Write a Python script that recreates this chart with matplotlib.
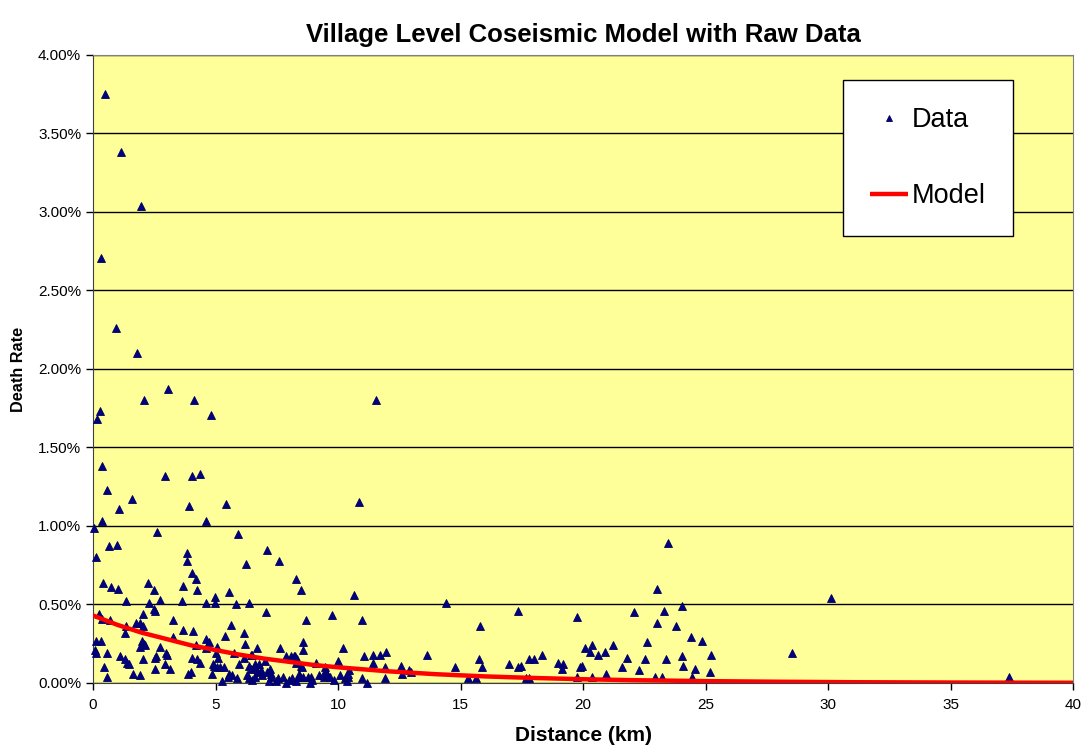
import numpy as np
import matplotlib
matplotlib.use("Agg")
import matplotlib.pyplot as plt
from matplotlib.ticker import FuncFormatter, MultipleLocator

plt.rcParams['font.family'] = ['Liberation Sans', 'DejaVu Sans']

# raw village data: distance (km), death rate (%)
data_km = [
    0.49, 1.14, 1.96, 0.33, 0.94, 1.80,
    3.06, 2.08, 4.12, 0.29, 0.16, 4.82, 11.55,
    0.37, 2.94, 4.04, 4.37, 0.57, 1.06, 1.59, 3.92, 5.43, 10.86,
    0.37, 4.61, 0.04, 2.61, 5.92,
    0.65, 0.98, 0.12, 3.84, 3.84, 7.10, 7.59, 6.24, 23.47,
    4.04, 4.20, 0.41, 0.73, 1.02, 2.24, 2.49, 3.67, 4.24, 8.29, 8.49, 5.55, 10.65, 30.12, 23.02,
    1.35, 2.73, 2.29, 3.63, 4.61, 4.98, 4.98, 5.84, 6.37, 14.41, 24.04,
    2.53, 2.04, 0.24, 0.37, 0.69, 7.06, 9.76, 3.27, 8.69, 10.98, 17.35, 23.31, 19.76, 22.08, 2.49,
    1.76, 1.92, 2.04, 1.35, 1.31, 5.63, 3.67, 4.08, 6.16, 15.80, 23.02, 23.80,
    0.12, 0.33, 2.00, 3.27, 4.61, 4.73, 5.39, 6.20, 8.57, 24.40, 24.86, 22.61, 2.08,
    1.92, 2.12, 2.73, 4.20, 5.06, 6.69, 7.63, 8.57, 10.20, 4.61, 5.02,
    0.08, 0.12, 0.57, 2.98, 3.02, 5.76, 1.10, 2.57, 4.04, 4.24, 4.37, 6.45, 6.49,
    7.88, 8.08, 8.20, 8.33, 8.29, 8.24,
    1.31, 1.39, 1.47, 2.04, 5.10, 7.02, 9.10, 10.00,
    0.45, 2.94, 3.14, 4.90, 4.94, 5.06, 5.18, 5.96, 6.37, 6.61, 6.78, 8.49, 8.53, 2.53,
    1.63, 1.92, 3.88, 4.00, 4.86, 0.57,
    11.06, 11.43, 11.71, 11.96, 11.43, 13.63, 12.57, 11.92, 10.45, 9.47, 9.51, 9.43, 12.90, 12.98,
    12.61, 14.78, 15.76, 15.88, 16.98, 17.35, 17.47, 17.80, 18.00, 18.33, 17.67, 17.80, 15.31, 15.63,
    10.98, 11.18, 11.92,
    20.08, 20.29, 20.37, 20.60, 20.90, 21.22, 21.80, 22.53, 23.39, 24.04, 25.22, 18.98, 19.18, 19.14,
    19.88, 19.96, 21.59, 22.29, 24.08, 24.57, 25.18, 19.76, 20.37, 20.94, 22.94, 23.22, 24.45,
    28.53, 37.39,
    5.35, 6.16, 6.45, 6.61, 6.69, 6.86, 7.10, 7.22, 7.27,
    5.55, 5.88, 6.29, 6.37, 6.49, 6.61, 6.90, 7.27, 7.45,
    7.18, 7.55, 8.00, 8.12, 7.88, 7.76,
    8.41, 8.45, 8.57, 8.78, 8.90, 8.94, 9.22, 9.39, 9.55, 9.67, 9.84, 10.10, 10.30, 10.37, 10.41,
    10.41, 8.29, 8.86,
    5.27, 5.51, 5.67, 2.53,
]
data_rate = [
    3.75, 3.38, 3.04, 2.71, 2.26, 2.10,
    1.87, 1.80, 1.80, 1.73, 1.68, 1.71, 1.80,
    1.38, 1.32, 1.32, 1.33, 1.23, 1.11, 1.17, 1.13, 1.14, 1.15,
    1.03, 1.03, 0.99, 0.96, 0.95,
    0.87, 0.88, 0.80, 0.83, 0.78, 0.85, 0.78, 0.76, 0.89,
    0.70, 0.66, 0.64, 0.61, 0.60, 0.64, 0.59, 0.62, 0.59, 0.66, 0.59, 0.58, 0.56, 0.54, 0.60,
    0.52, 0.53, 0.51, 0.52, 0.51, 0.55, 0.51, 0.50, 0.51, 0.51, 0.49,
    0.46, 0.44, 0.44, 0.41, 0.40, 0.45, 0.43, 0.40, 0.40, 0.40, 0.46, 0.46, 0.42, 0.45, 0.47,
    0.38, 0.38, 0.36, 0.36, 0.32, 0.37, 0.34, 0.33, 0.32, 0.36, 0.38, 0.36,
    0.27, 0.27, 0.27, 0.29, 0.28, 0.26, 0.30, 0.25, 0.26, 0.29, 0.27, 0.26, 0.25,
    0.23, 0.24, 0.23, 0.24, 0.23, 0.22, 0.22, 0.21, 0.22, 0.22, 0.19,
    0.21, 0.19, 0.19, 0.19, 0.18, 0.19, 0.17, 0.17, 0.16, 0.15, 0.13, 0.18, 0.18,
    0.17, 0.17, 0.17, 0.15, 0.13, 0.17,
    0.15, 0.13, 0.12, 0.15, 0.16, 0.14, 0.13, 0.14,
    0.10, 0.12, 0.09, 0.12, 0.11, 0.10, 0.10, 0.12, 0.11, 0.12, 0.12, 0.11, 0.10, 0.09,
    0.06, 0.05, 0.06, 0.07, 0.06, 0.04,
    0.17, 0.18, 0.18, 0.20, 0.13, 0.18, 0.11, 0.10, 0.08, 0.10, 0.07, 0.04, 0.08, 0.07,
    0.06, 0.10, 0.15, 0.10, 0.12, 0.10, 0.11, 0.15, 0.15, 0.18, 0.03, 0.03, 0.03, 0.03,
    0.03, 0.00, 0.03,
    0.22, 0.20, 0.24, 0.18, 0.20, 0.24, 0.16, 0.15, 0.15, 0.17, 0.18, 0.13, 0.12, 0.09,
    0.10, 0.11, 0.10, 0.08, 0.11, 0.09, 0.07, 0.04, 0.04, 0.06, 0.04, 0.04, 0.04,
    0.19, 0.04,
    0.10, 0.16, 0.09, 0.10, 0.07, 0.08, 0.07, 0.09, 0.06,
    0.06, 0.03, 0.05, 0.03, 0.02, 0.04, 0.05, 0.04, 0.01,
    0.01, 0.03, 0.02, 0.03, 0.00, 0.04,
    0.06, 0.04, 0.04, 0.04, 0.04, 0.02, 0.05, 0.05, 0.06, 0.04, 0.02, 0.05, 0.03, 0.01, 0.04,
    0.06, 0.01, 0.00,
    0.01, 0.04, 0.05, 0.16,
]

# fitted model curve
model_km = [0, 1, 2, 3, 4, 5, 6, 7, 8, 9, 10, 12, 14, 16, 18, 20, 22, 25, 28, 31, 35, 40]
model_rate = [0.43, 0.37, 0.32, 0.28, 0.24, 0.21, 0.18, 0.155, 0.135, 0.115, 0.10,
              0.075, 0.056, 0.042, 0.032, 0.024, 0.018, 0.012, 0.008, 0.005, 0.003, 0.0015]

fig = plt.figure(figsize=(10.83, 7.48), dpi=100)
ax = fig.add_axes([0.0859, 0.0869, 0.9049, 0.8396])
ax.set_facecolor('#FFFF99')

ax.plot(data_km, data_rate, linestyle='none', marker='^', markersize=5.5,
        color='#000080', markeredgecolor='#000060', markeredgewidth=0.6,
        label='Data', zorder=3, clip_on=False)
ax.plot(model_km, model_rate, color='#FF0000', linewidth=3.2, label='Model',
        zorder=4, solid_capstyle='butt')

ax.set_xlim(0, 40)
ax.set_ylim(0, 4)
ax.xaxis.set_major_locator(MultipleLocator(5))
ax.yaxis.set_major_locator(MultipleLocator(0.5))
ax.yaxis.set_major_formatter(FuncFormatter(lambda v, p: '%.2f%%' % v))
ax.grid(axis='y', color='black', linewidth=1)
ax.set_axisbelow(True)
ax.tick_params(axis='both', direction='out', length=5, width=1, labelsize=11, color='black')
ax.tick_params(axis='x', pad=6)

for s in ['top', 'right']:
    ax.spines[s].set_color('#808080')
for s in ['left', 'bottom']:
    ax.spines[s].set_color('#404040')

ax.set_title('Village Level Coseismic Model with Raw Data', fontsize=18.5,
             fontweight='bold', pad=9)
ax.set_xlabel('Distance (km)', fontsize=15, fontweight='bold', labelpad=10)
ax.set_ylabel('Death Rate', fontsize=11.7, fontweight='bold', labelpad=9)

leg = ax.legend(loc='upper center', bbox_to_anchor=(0.852, 0.960),
                borderaxespad=0, fontsize=19.5, labelspacing=1.85,
                handlelength=1.4, handletextpad=0.15, borderpad=1.0, fancybox=False,
                framealpha=1, markerscale=0.75)
leg.get_frame().set_edgecolor('black')
leg.get_frame().set_linewidth(1)

fig.savefig('out.png', dpi=100)
